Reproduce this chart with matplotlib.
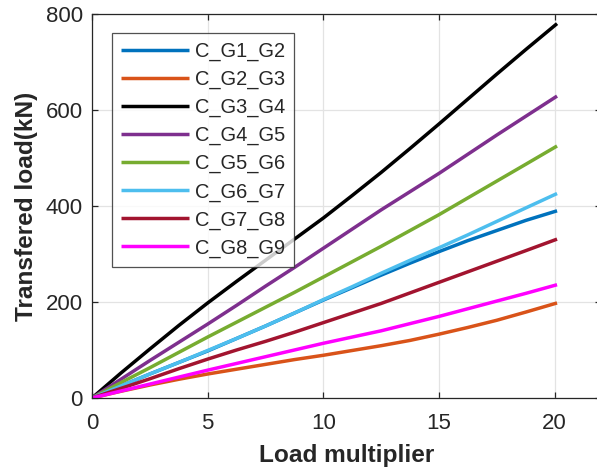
import matplotlib
matplotlib.use("Agg")
import matplotlib.pyplot as plt

plt.rcParams['font.family'] = ['Liberation Sans', 'DejaVu Sans']

# Load multiplier steps
load_multiplier = [0, 1.25, 2.5, 3.75, 5, 6.25, 7.5, 8.75, 10,
                   11.25, 12.5, 13.75, 15, 16.25, 17.5, 18.75, 20.1]

# Transferred load (kN) for each connection
c_g1_g2 = [0, 25, 50, 74, 98, 124, 150, 177, 204,
           230, 256, 281, 305, 328, 349, 370, 390]
c_g2_g3 = [0, 14, 27, 39, 50, 60, 70, 80, 89,
           99, 109, 120, 133, 147, 162, 179, 198]
c_g3_g4 = [0, 52, 102, 151, 198, 243, 287, 331, 375,
           422, 470, 520, 571, 623, 675, 726, 780]
c_g4_g5 = [0, 39, 78, 116, 154, 193, 233, 272, 312,
           352, 392, 430, 468, 508, 548, 587, 629]
c_g5_g6 = [0, 32, 63, 95, 127, 158, 189, 220, 252,
           284, 316, 349, 382, 417, 452, 487, 525]
c_g6_g7 = [0, 25, 50, 74, 99, 124, 150, 177, 205,
           232, 260, 287, 313, 340, 368, 396, 426]
c_g7_g8 = [0, 20, 40, 61, 81, 100, 118, 137, 157,
           177, 197, 219, 241, 263, 285, 307, 331]
c_g8_g9 = [0, 14.5, 29, 43.5, 58, 72, 86, 100, 114,
           127, 140, 155, 170, 186, 202, 218, 236]

series_names = ['C_G1_G2', 'C_G2_G3', 'C_G3_G4', 'C_G4_G5',
                'C_G5_G6', 'C_G6_G7', 'C_G7_G8', 'C_G8_G9']
series_values = [c_g1_g2, c_g2_g3, c_g3_g4, c_g4_g5,
                 c_g5_g6, c_g6_g7, c_g7_g8, c_g8_g9]
colors = ['#0072BD', '#D95319', '#000000', '#7E2F8E',
          '#77AC30', '#4DBEEE', '#A2142F', '#FF00FF']

x_ticks = [0, 5, 10, 15, 20]
y_ticks = [0, 200, 400, 600, 800]

axis_color = '#262626'

fig = plt.figure(figsize=(5.97, 4.69), dpi=100)
ax = fig.add_axes([0.1541, 0.1514, 0.8526, 0.8187])

for name, vals, col in zip(series_names, series_values, colors):
    ax.plot(load_multiplier, vals, color=col, lw=2.5, label=name,
            solid_capstyle='butt', solid_joinstyle='round')

ax.set_xlim(0, 22)
ax.set_ylim(0, 800)
ax.set_xticks(x_ticks)
ax.set_yticks(y_ticks)
ax.grid(True, color='#e3e3e3', lw=0.9)
ax.set_axisbelow(True)

for side in ax.spines.values():
    side.set_color(axis_color)
    side.set_linewidth(0.9)

ax.tick_params(direction='in', length=4, width=0.9, colors=axis_color,
               labelsize=16, top=True, right=True)
ax.tick_params(axis='x', pad=11)
ax.tick_params(axis='y', pad=6.5)
for lbl in ax.get_xticklabels() + ax.get_yticklabels():
    lbl.set_color(axis_color)

ax.set_xlabel('Load multiplier', fontsize=17.6, fontweight='bold',
              color=axis_color, labelpad=7)
ax.set_ylabel('Transfered load(kN)', fontsize=17.6, fontweight='bold',
              color=axis_color, labelpad=6)

leg = ax.legend(loc='upper left', bbox_to_anchor=(0.0393, 0.9505),
                fontsize=14.4, frameon=True, fancybox=False,
                handlelength=3.4, handletextpad=0.3, labelspacing=0.44,
                borderpad=0.45, borderaxespad=0)
leg.get_frame().set_edgecolor(axis_color)
leg.get_frame().set_linewidth(0.9)
for t in leg.get_texts():
    t.set_color(axis_color)

fig.savefig('out.png', dpi=100)
